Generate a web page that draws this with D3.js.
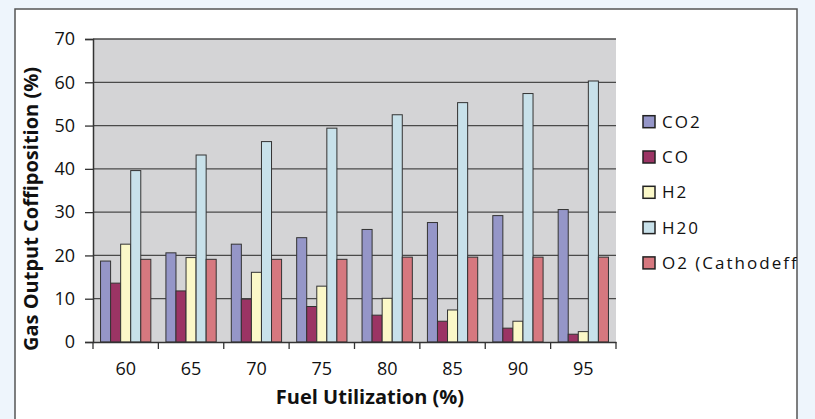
<!DOCTYPE html>
<html><head><meta charset="utf-8">
<script src="https://cdn.jsdelivr.net/npm/d3@7"></script>
<style>
html,body{margin:0;padding:0;background:#eef5fc;}
svg{display:block;font-family:"Open Sans",sans-serif;}
</style></head>
<body>
<script>
const categories = ["60","65","70","75","80","85","90","95"];
const seriesNames = ["CO2","CO","H2","H20","O2 (Cathodeffi"];
const co2 = [18.7, 20.6, 22.6, 24.1, 26.0, 27.6, 29.2, 30.6];
const co  = [13.6, 11.8, 9.9, 8.2, 6.2, 4.8, 3.2, 1.8];
const h2  = [22.6, 19.5, 16.1, 12.9, 10.1, 7.4, 4.8, 2.4];
const h20 = [39.6, 43.2, 46.3, 49.4, 52.5, 55.3, 57.4, 60.3];
const o2  = [19.1, 19.1, 19.1, 19.1, 19.6, 19.6, 19.6, 19.6];
const yTicks = [0,10,20,30,40,50,60,70];
const colors = ["#9596c8","#9b3464","#fbf8c8","#c8e1ea","#d6787f"];
const seriesValues = [co2, co, h2, h20, o2];

const W = 815, H = 419;
const svg = d3.select("body").append("svg").attr("width", W).attr("height", H);

// panel
svg.append("rect").attr("x",15).attr("y",9).attr("width",782).attr("height",420)
  .attr("fill","#fff").attr("stroke","#555").attr("stroke-width",1.5);

const plot = {l:93, r:616, t:39, b:342};
const x0 = d3.scaleBand().domain(categories).range([plot.l, plot.r]).paddingInner(0).paddingOuter(0);
const x1 = d3.scaleBand().domain(d3.range(seriesNames.length)).range([0, x0.bandwidth()]).paddingOuter(0.75).paddingInner(0);
const y = d3.scaleLinear().domain([0,70]).range([plot.b, plot.t]);

svg.append("rect").attr("x",plot.l).attr("y",plot.t).attr("width",plot.r-plot.l).attr("height",plot.b-plot.t)
  .attr("fill","#d4d4d6");

// gridlines
svg.append("g").selectAll("line").data(yTicks.filter(d=>d>0)).join("line")
  .attr("x1",plot.l).attr("x2",plot.r).attr("y1",d=>y(d)).attr("y2",d=>y(d))
  .attr("stroke","#4a4a4a").attr("stroke-width",1.3);

// bars
const groups = svg.append("g").selectAll("g").data(categories).join("g")
  .attr("transform", d=>`translate(${x0(d)},0)`);
groups.selectAll("rect").data((c,i)=>seriesValues.map((s,k)=>({k, v:s[i]}))).join("rect")
  .attr("x", d=>x1(d.k)).attr("width", x1.bandwidth())
  .attr("y", d=>y(d.v)).attr("height", d=>plot.b - y(d.v))
  .attr("fill", d=>colors[d.k]).attr("stroke","#333").attr("stroke-width",1);

// axes
const yAxis = svg.append("g").attr("transform",`translate(${plot.l},0)`)
  .call(d3.axisLeft(y).tickValues(yTicks).tickSize(8).tickPadding(10));
yAxis.attr("font-size",18).attr("font-family","Open Sans");
yAxis.select(".domain").attr("stroke","#333").attr("stroke-width",1.5);
yAxis.selectAll(".tick line").attr("stroke","#333").attr("stroke-width",1.3);
yAxis.selectAll("text").attr("fill","#111");

const xAxis = svg.append("g").attr("transform",`translate(0,${plot.b})`)
  .call(d3.axisBottom(x0).tickSize(0).tickPadding(20));
xAxis.attr("font-size",18).attr("font-family","Open Sans");
xAxis.select(".domain").attr("stroke","#333").attr("stroke-width",1.5);
xAxis.selectAll("text").attr("fill","#111");
svg.append("g").selectAll("line").data(d3.range(categories.length+1)).join("line")
  .attr("x1",i=>plot.l + i*x0.step()).attr("x2",i=>plot.l + i*x0.step())
  .attr("y1",plot.b).attr("y2",plot.b+7).attr("stroke","#333").attr("stroke-width",1.3);

// titles
svg.append("text").attr("x",370).attr("y",404).attr("text-anchor","middle")
  .attr("font-size",20).attr("font-weight","bold").attr("fill","#111").text("Fuel Utilization (%)");
svg.append("text").attr("transform","translate(38,209) rotate(-90)").attr("text-anchor","middle")
  .attr("font-size",20).attr("font-weight","bold").attr("fill","#111").text("Gas Output Coffiposition (%)");

// legend
svg.append("clipPath").attr("id","pc").append("rect").attr("x",15).attr("y",9).attr("width",782).attr("height",420);
const leg = svg.append("g").attr("clip-path","url(#pc)").selectAll("g").data(seriesNames).join("g")
  .attr("transform",(d,i)=>`translate(643,${121.7 + i*35.3})`);
leg.append("rect").attr("x",0).attr("y",-6).attr("width",12).attr("height",12)
  .attr("fill",(d,i)=>colors[i]).attr("stroke","#222").attr("stroke-width",1.5);
leg.append("text").attr("x",19).attr("y",6).attr("font-size",17).attr("letter-spacing",2)
  .attr("fill","#111").text(d=>d);
</script>
</body></html>
